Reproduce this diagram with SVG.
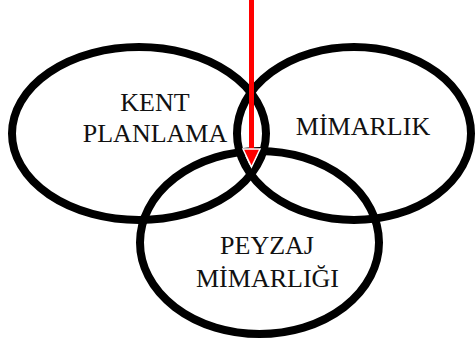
<svg xmlns="http://www.w3.org/2000/svg" width="475" height="344" viewBox="0 0 475 344">
<style>
.ring{fill:none;stroke:#000;stroke-width:8}
.lbl{font-family:"Liberation Serif","Times New Roman",serif;font-size:26px;fill:#111;text-anchor:middle}
</style>
<rect width="475" height="344" fill="#fff"/>
<g id="kent-planlama">
<ellipse class="ring" cx="139" cy="133.5" rx="127" ry="86.5"/>
<text class="lbl" x="155" y="111">KENT</text>
<text class="lbl" x="155" y="142">PLANLAMA</text>
</g>
<g id="mimarlik">
<ellipse class="ring" cx="354" cy="133.5" rx="117" ry="86.5"/>
<text class="lbl" x="363" y="135">MİMARLIK</text>
</g>
<g id="peyzaj-mimarligi">
<ellipse class="ring" cx="259.5" cy="242.5" rx="119.5" ry="91.5"/>
<text class="lbl" x="267" y="254">PEYZAJ</text>
<text class="lbl" x="267.5" y="287">MİMARLIĞI</text>
</g>
<g id="connectors">
<line x1="251.5" y1="0" x2="251.5" y2="150" stroke="#f00" stroke-width="5"/>
<polygon points="243,149 260,149 251.5,167" fill="#f00" stroke="#fff" stroke-width="1.5" stroke-linejoin="miter"/>
</g>
</svg>
